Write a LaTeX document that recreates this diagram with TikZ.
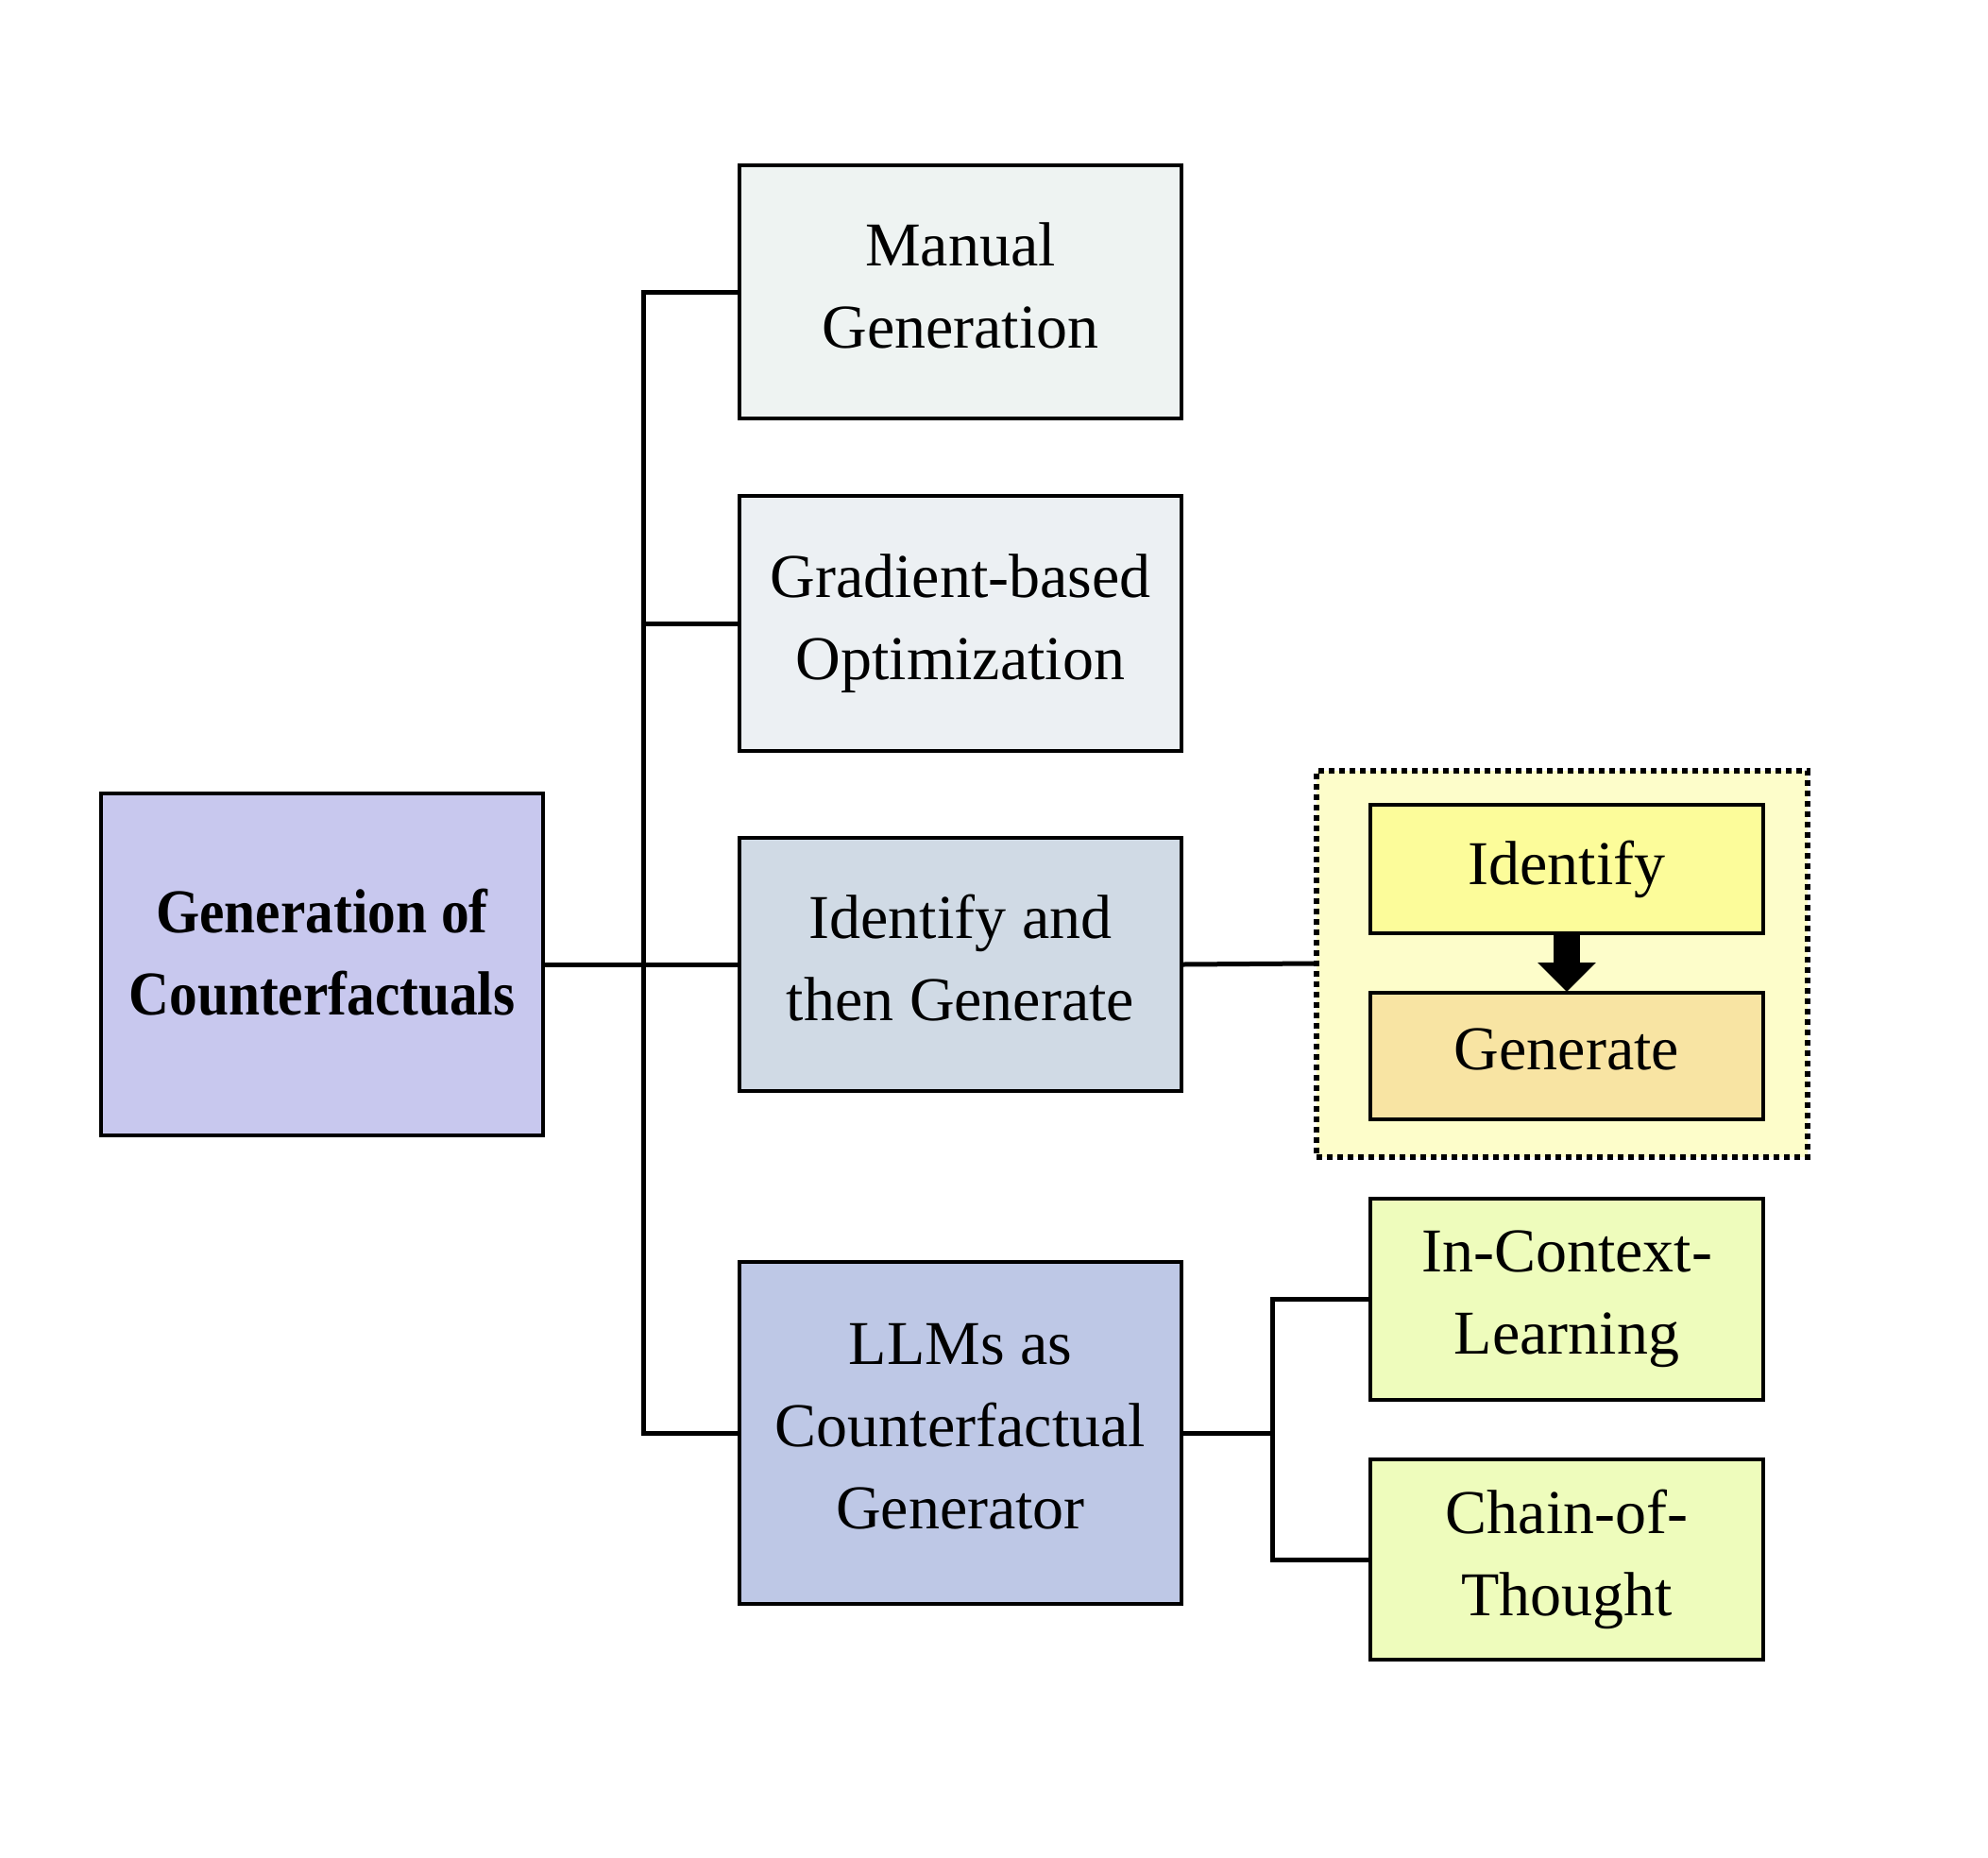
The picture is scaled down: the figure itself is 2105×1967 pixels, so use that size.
\documentclass[tikz,border=0pt]{standalone}
\usepackage{fontspec}
\setmainfont{Liberation Serif}
\usetikzlibrary{arrows.meta}
\definecolor{crootc}{HTML}{C8C8EE}
\definecolor{cmanual}{HTML}{EEF3F2}
\definecolor{cgrad}{HTML}{ECF0F3}
\definecolor{cidthen}{HTML}{D0DAE5}
\definecolor{cllm}{HTML}{BEC8E6}
\definecolor{ccont}{HTML}{FDFDCA}
\definecolor{cident}{HTML}{FCFC9A}
\definecolor{cgen}{HTML}{F8E4A3}
\definecolor{cleaf}{HTML}{EEFCBC}
\tikzset{
  box/.style={draw=black, line width=4pt, rectangle, align=center, inner sep=0pt,
    font=\fontsize{66}{87}\selectfont,
    execute at end node={\rule[-14pt]{0pt}{14pt}}},
  conn/.style={draw=black, line width=5pt},
}
\begin{document}
\begin{tikzpicture}[x=1pt,y=-1pt]
\useasboundingbox (0,0) rectangle (2105,1967);
\fill[white] (0,0) rectangle (2105,1967);
\node[box, fill=crootc, minimum width=468pt, minimum height=362pt,
  font=\fontsize{66}{87}\selectfont\addfontfeatures{FakeStretch=0.9}\bfseries,
  execute at end node={\rule[-26pt]{0pt}{26pt}}] (root) at (341,1021) {Generation of\\Counterfactuals};
\node[box, fill=cmanual, minimum width=468pt, minimum height=268pt] (manual) at (1017,309) {Manual\\Generation};
\node[box, fill=cgrad, minimum width=468pt, minimum height=270pt] (grad) at (1017,660) {Gradient-based\\Optimization};
\node[box, fill=cidthen, minimum width=468pt, minimum height=268pt] (idthen) at (1017,1021) {Identify and\\then Generate};
\node[box, fill=cllm, minimum width=468pt, minimum height=362pt] (llm) at (1017,1517) {LLMs as\\Counterfactual\\Generator};
\node[draw=black, line width=6pt, dash pattern=on 6pt off 5pt, fill=ccont, minimum width=520pt, minimum height=409pt, inner sep=0pt] (cont) at (1654,1020) {};
\node[box, fill=cident, minimum width=416pt, minimum height=136pt] (ident) at (1659,920) {Identify};
\node[box, fill=cgen, minimum width=416pt, minimum height=134pt] (gen) at (1659,1118) {Generate};
\node[box, fill=cleaf, minimum width=416pt, minimum height=213pt] (icl) at (1659,1375) {In-Context-\\Learning};
\node[box, fill=cleaf, minimum width=416pt, minimum height=212pt] (cot) at (1659,1651) {Chain-of-\\Thought};
\coordinate (trunkx) at (681,0);
\coordinate (forkx) at (1347,0);
\draw[conn] (manual.west) -- (manual.west -| trunkx) |- (llm.west);
\draw[conn] (grad.west) -- (grad.west -| trunkx);
\draw[conn] (root.east) -- (idthen.west);
\draw[conn] (idthen.east) -- (cont.west);
\draw[conn] (llm.east) -- (llm.east -| forkx);
\draw[conn] (icl.west) -- (icl.west -| forkx) |- (cot.west);
\draw[line width=28pt, -{Triangle[width=60pt,length=31pt]}] ([yshift=2pt]ident.south) -- ([yshift=-1pt]gen.north);
\end{tikzpicture}
\end{document}
